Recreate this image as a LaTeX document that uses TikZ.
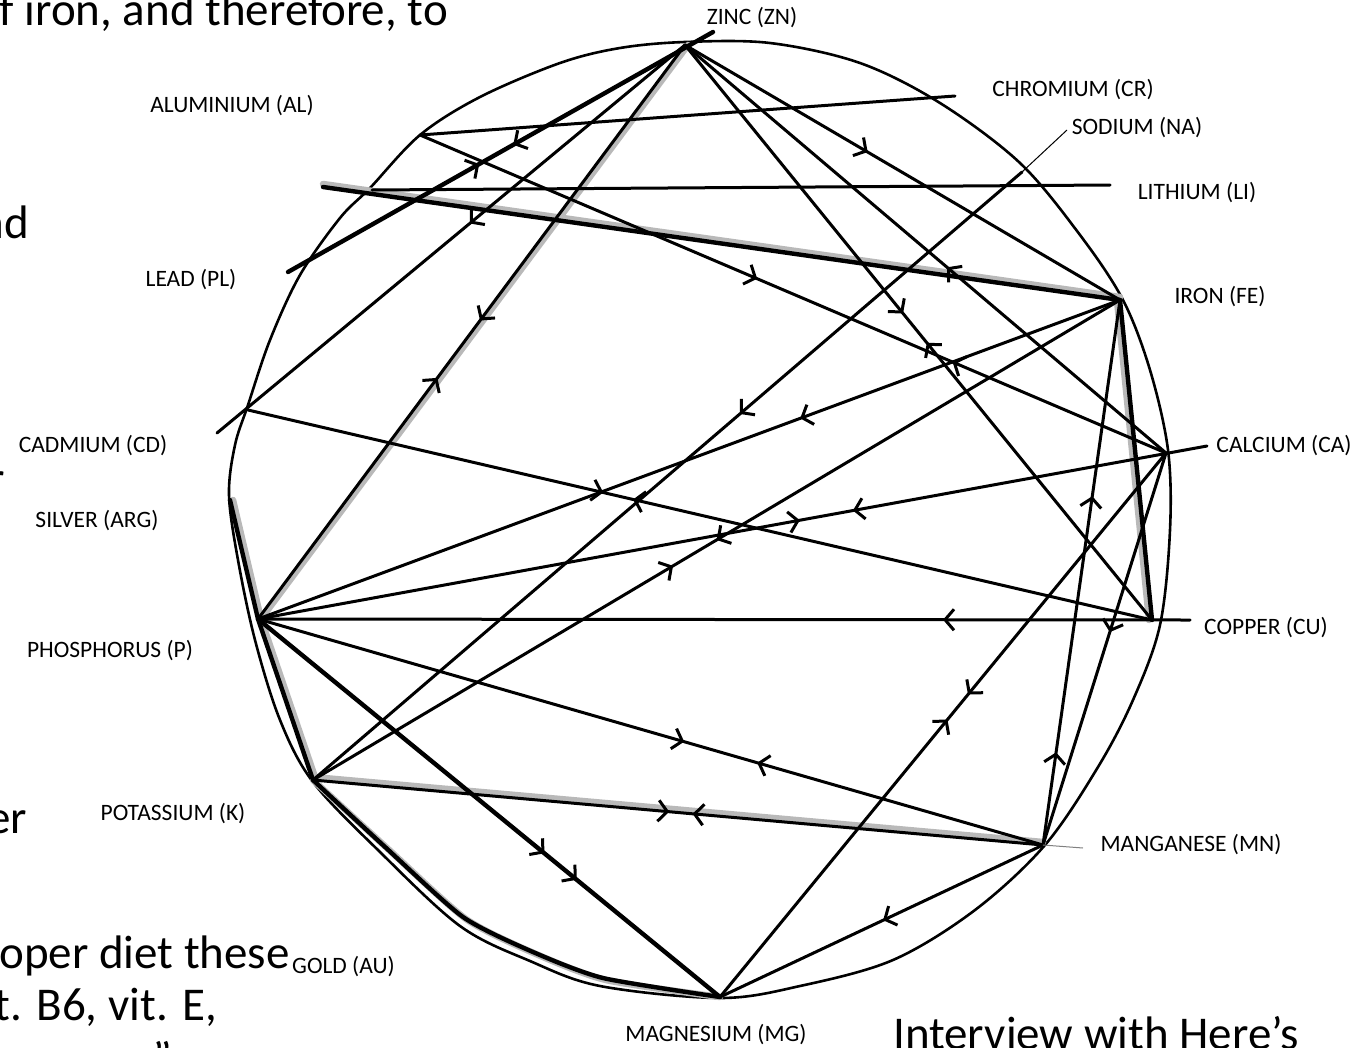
\documentclass[tikz,border=0pt]{standalone}
\usepackage{fontspec}
\setmainfont{Carlito}
\usetikzlibrary{arrows.meta,decorations.markings}

\tikzset{
  chev/.tip={Straight Barb[length=9pt,width=21pt,line width=3pt]},
  rim/.style={line width=2.6pt,line join=round},
  conn/.style={line width=3pt,line cap=round},
  heavy/.style={line width=4.4pt,line cap=round},
  shade/.style={draw=gray!55,line width=6.5pt,line cap=round},
  thin/.style={line width=1pt},
  fwd/.style={postaction={decorate,decoration={markings,mark=at position #1 with {\arrow{chev}}}}},
  bwd/.style={postaction={decorate,decoration={markings,mark=at position #1 with {\arrowreversed{chev}}}}},
  lbl/.style={font=\fontsize{23.5}{28}\selectfont,inner sep=0pt},
  big/.style={font=\fontsize{47}{56}\selectfont,inner sep=0pt}
}

\begin{document}
\begin{tikzpicture}[x=1pt,y=-1pt]
    \useasboundingbox (0,0) rectangle (1365,1047);

    % Points on the wheel
    \coordinate (zn) at (685,45);
    \coordinate (al) at (420,135);
    \coordinate (na) at (1022,172);
    \coordinate (fe) at (1120,300);
    \coordinate (ca) at (1166,453);
    \coordinate (cu) at (1152,620);
    \coordinate (mn) at (1043,845);
    \coordinate (mg) at (720,997);
    \coordinate (k) at (313,780);
    \coordinate (p) at (258,619);
    \coordinate (ag) at (230,500);
    \coordinate (cd) at (248,410);
    \coordinate (lil) at (372,190);

    % Free ends running out of the wheel
    \coordinate (znx) at (713,32);
    \coordinate (pbx) at (288,272);
    \coordinate (cdx) at (217,433);
    \coordinate (crx) at (955,96);
    \coordinate (nax) at (1067,130);
    \coordinate (lix) at (1110,185);
    \coordinate (fex) at (323,187);
    \coordinate (cax) at (1207,446);
    \coordinate (cux) at (1190,620);
    \coordinate (mnx) at (1083,848);

    % Wheel
    \draw[rim] plot[smooth cycle,tension=0.55] coordinates {
      (685,42) (770,43) (860,63) (940,103) (1020,163) (1080,235)
      (1123,300) (1150,370) (1168,450) (1170,530) (1160,625) (1133,700)
      (1098,767) (1045,845) (975,910) (893,960) (800,986) (720,998)
      (600,986) (530,961) (460,926) (380,852) (313,782) (280,720)
      (255,640) (238,560) (229,495) (235,445) (248,405) (270,340)
      (300,275) (340,218) (370,188) (420,135) (480,97) (560,63) (620,48)};

    % Grey shading under some lines
    \draw[shade] ([xshift=3pt]zn) -- ([xshift=3pt]p);
    \draw[shade] ([yshift=3pt]fex) -- ([yshift=3pt]fe);
    \draw[shade] ([xshift=-3pt]fe) -- ([xshift=-3pt]cu);
    \draw[shade] ([xshift=3pt]p) -- ([xshift=3pt]k);
    \draw[shade] ([xshift=3pt]p) -- ([xshift=3pt]ag);
    \draw[shade,xshift=3pt,yshift=-2pt] plot[smooth,tension=0.4] coordinates {(k) (384,846) (463,917) (533,952) (603,978) (mg)};
    \draw[shade] ([yshift=3pt]k) -- ([yshift=3pt]mn);

    % Lines from zinc
    \draw[heavy,fwd=0.47,bwd=0.55] (znx) -- (pbx);
    \draw[conn,fwd=0.46] (zn) -- (cdx);
    \draw[conn,fwd=0.48,bwd=0.58] (zn) -- (p);
    \draw[conn,fwd=0.42] (zn) -- (fe);
    \draw[conn,bwd=0.545] (zn) -- (ca);
    \draw[conn,fwd=0.467,bwd=0.518] (zn) -- (cu);

    % Lines across the top
    \draw[conn] (al) -- (crx);
    \draw[conn,fwd=0.452,bwd=0.714] (al) -- (ca);
    \draw[conn] (lil) -- (lix);
    \draw[heavy] (fex) -- (fe);
    \draw[conn,fwd=0.398] (na) -- (k);
    \draw[thin] (na) -- (nax);

    % Lines from iron
    \draw[conn,fwd=0.5,bwd=0.554] (fe) -- (k);
    \draw[conn,fwd=0.371] (fe) -- (p);
    \draw[heavy] (fe) -- (cu);
    \draw[conn,bwd=0.36,bwd=0.83] (fe) -- (mn);

    % Lines from calcium and cadmium
    \draw[conn,fwd=0.571,bwd=0.627] (p) -- (cax);
    \draw[conn,fwd=0.444,bwd=0.49] (ca) -- (mg);
    \draw[conn,fwd=0.457] (ca) -- (mn);
    \draw[conn,fwd=0.393,bwd=0.426] (cd) -- (cu);

    % Lines from phosphorus
    \draw[conn,bwd=0.735] (p) -- (cux);
    \draw[conn,fwd=0.543,bwd=0.636] (p) -- (mn);
    \draw[heavy,fwd=0.62,fwd=0.69] (p) -- (mg);
    \draw[heavy] (p) -- (k);
    \draw[heavy] (p) -- (ag);

    % Lines along the bottom
    \draw[conn,fwd=0.488,bwd=0.52] (k) -- (mn);
    \draw[heavy] plot[smooth,tension=0.4] coordinates {(k) (384,846) (463,917) (533,952) (603,978) (mg)};
    \draw[conn,fwd=0.495] (mn) -- (mg);
    \draw[thin,gray] (mn) -- (mnx);

    % Element labels
    \node[lbl] (lzn) at (752,18) {ZINC (ZN)};
    \node[lbl] (lcr) at (1073,90) {CHROMIUM (CR)};
    \node[lbl] (lna) at (1137,128) {SODIUM (NA)};
    \node[lbl] (lli) at (1197,193) {LITHIUM (LI)};
    \node[lbl] (lfe) at (1220,297) {IRON (FE)};
    \node[lbl] (lca) at (1284,446) {CALCIUM (CA)};
    \node[lbl] (lcu) at (1266,628) {COPPER (CU)};
    \node[lbl] (lmn) at (1191,845) {MANGANESE (MN)};
    \node[lbl] (lmg) at (716,1035) {MAGNESIUM (MG)};
    \node[lbl,anchor=base west] (lau) at (292,973) {GOLD (AU)};
    \node[lbl] (lk) at (173,814) {POTASSIUM (K)};
    \node[lbl] (lp) at (110,651) {PHOSPHORUS (P)};
    \node[lbl] (lag) at (97,521) {SILVER (ARG)};
    \node[lbl] (lcd) at (93,446) {CADMIUM (CD)};
    \node[lbl] (lpb) at (191,280) {LEAD (PL)};
    \node[lbl] (lal) at (232,106) {ALUMINIUM (AL)};

    % Page text around the picture
    \node[big,anchor=base east] (t1) at (448,25) {f iron, and therefore, to};
    \node[big,anchor=base east] (t2) at (29,238) {nd};
    \node[big,anchor=base east] (t3) at (5,494) {r};
    \node[big,anchor=base east] (t4) at (27,833) {er};
    \node[big,anchor=base east] (t5) at (290,968) {oper diet these};
    \node[big,anchor=base east] (t6) at (217,1020) {t. B6, vit. E,};
    \node[big,anchor=base west] (t7) at (152,1074) {”};
    \node[big,anchor=base west] (t8) at (893,1049) {Interview with Here’s};
\end{tikzpicture}
\end{document}
